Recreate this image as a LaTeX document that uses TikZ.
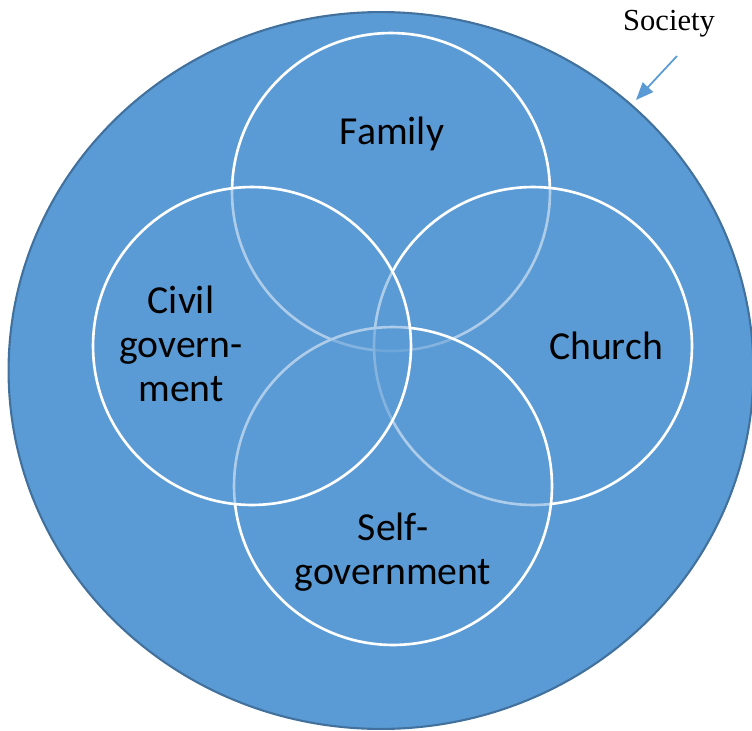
\documentclass[tikz,border=0pt]{standalone}
\usepackage{fontspec}
\setmainfont{Carlito}
\newfontfamily\societyfont{Liberation Serif}
\usetikzlibrary{shapes.geometric,arrows.meta}
\definecolor{venn}{HTML}{5B9BD5}
\definecolor{vennedge}{HTML}{41719C}

\begin{document}
\begin{tikzpicture}[x=0.02cm,y=-0.02cm,
    ring/.style={circle,draw=white,line width=1.5pt,fill=venn,fill opacity=0.5,
                 minimum size=6.36cm,inner sep=0pt},
    sphere/.style={font=\fontsize{22.6}{25}\selectfont,align=center}]

    \useasboundingbox (0,0) rectangle (752,731);

    % society
    \node[ellipse, fill=venn, draw=vennedge, line width=1.2pt, inner sep=0pt,
          minimum width=14.9cm, minimum height=14.34cm] (society) at (381,370.5) {};

    % the four spheres
    \node[ring] (family) at (391,192) {};
    \node[ring] (church) at (533,346) {};
    \node[ring] (self) at (393,486) {};
    \node[ring] (civil) at (252,346) {};

    \node[sphere] (familytext) at (392,134) {Family};
    \node[sphere] (civiltext) at (181,344) {Civil\\govern-\\ment};
    \node[sphere] (churchtext) at (606,346) {Church};
    \node[sphere] (selftext) at (393,552) {Self-\\government};

    \node[font=\societyfont\fontsize{17.4}{20}\selectfont] (societytext) at (669,24) {Society};
    \coordinate (tail) at (677,56);
    \coordinate (tip) at (636,100);
    \draw[venn, line width=1pt, -{Triangle[length=10pt,width=8pt]}] (tail) -- (tip);

\end{tikzpicture}
\end{document}
